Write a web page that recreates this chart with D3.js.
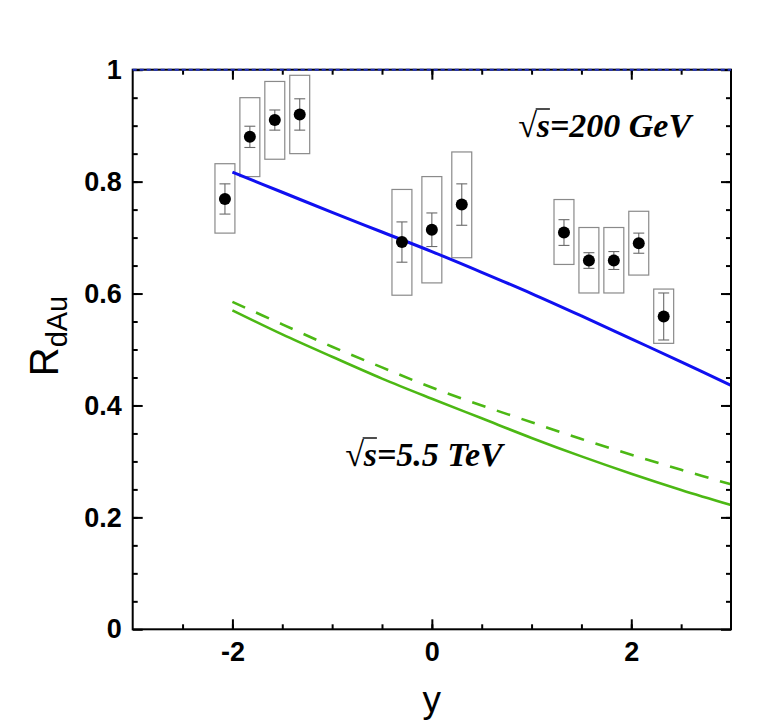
<!DOCTYPE html>
<html>
<head>
<meta charset="utf-8">
<script src="https://cdn.jsdelivr.net/npm/d3@7"></script>
<style>
  html, body { margin: 0; padding: 0; background: #fff; }
  svg { display: block; }
</style>
</head>
<body>
<svg id="chart" width="767" height="722"></svg>
<script>
// ---- data ----
const rapidity = [-2.075, -1.825, -1.575, -1.325, -0.3, 0, 0.3, 1.325, 1.575, 1.825, 2.075, 2.325];
const rdAu     = [0.769, 0.880, 0.910, 0.920, 0.692, 0.714, 0.759, 0.709, 0.659, 0.659, 0.690, 0.559];
const statErr  = [0.027, 0.019, 0.018, 0.028, 0.036, 0.030, 0.037, 0.023, 0.014, 0.016, 0.018, 0.042];
const sysLow   = [0.708, 0.809, 0.840, 0.850, 0.597, 0.619, 0.664, 0.652, 0.601, 0.601, 0.633, 0.511];
const sysHigh  = [0.832, 0.950, 0.979, 0.990, 0.786, 0.809, 0.853, 0.768, 0.718, 0.718, 0.747, 0.608];

const curveY      = [-2, -1.5, -1, -0.5, 0, 0.5, 1, 1.5, 2, 2.5, 3];
const rhic200     = [0.817, 0.781, 0.745, 0.710, 0.675, 0.638, 0.600, 0.560, 0.519, 0.478, 0.436];
const lhcSolid    = [0.570, 0.527, 0.487, 0.448, 0.412, 0.377, 0.342, 0.309, 0.278, 0.249, 0.222];
const lhcDashed   = [0.585, 0.545, 0.505, 0.468, 0.432, 0.400, 0.370, 0.340, 0.312, 0.285, 0.259];

const xTicks = [-2, 0, 2];
const yTicks = [0, 0.2, 0.4, 0.6, 0.8, 1];
const yTickLabels = ["0", "0.2", "0.4", "0.6", "0.8", "1"];

// ---- layout ----
const svg = d3.select("#chart");
const L = 132.7, R = 731, T = 69.7, B = 629.3;
const x = d3.scaleLinear().domain([-3, 3]).range([L, R]);
const y = d3.scaleLinear().domain([0, 1]).range([B, T]);

const sans = "'Liberation Sans', Arial, Helvetica, sans-serif";
const serif = "'Liberation Serif', 'Times New Roman', serif";

// ---- systematic boxes ----
const pts = rapidity.map((v, i) => ({x: v, r: rdAu[i], e: statErr[i], lo: sysLow[i], hi: sysHigh[i]}));
const boxHalf = 0.1, capHalf = 0.055;

svg.append("g").selectAll("rect").data(pts).join("rect")
  .attr("x", d => x(d.x - boxHalf))
  .attr("width", d => x(d.x + boxHalf) - x(d.x - boxHalf))
  .attr("y", d => y(d.hi))
  .attr("height", d => y(d.lo) - y(d.hi))
  .attr("fill", "none").attr("stroke", "#8a8a8a").attr("stroke-width", 1.2);

// ---- curves ----
const mk = arr => curveY.map((v, i) => [v, arr[i]]);
const line = d3.line().x(d => x(d[0])).y(d => y(d[1])).curve(d3.curveCatmullRom);

svg.append("path").datum(mk(lhcSolid)).attr("d", line)
  .attr("fill", "none").attr("stroke", "#4cb814").attr("stroke-width", 2.6);
svg.append("path").datum(mk(lhcDashed)).attr("d", line)
  .attr("fill", "none").attr("stroke", "#4cb814").attr("stroke-width", 2.6)
  .attr("stroke-dasharray", "14 12");
svg.append("path").datum(mk(rhic200)).attr("d", line)
  .attr("fill", "none").attr("stroke", "#1010f0").attr("stroke-width", 3);

// ---- error bars ----
const eg = svg.append("g").attr("stroke", "#6a6a6a").attr("stroke-width", 1.1);
eg.selectAll("line.v").data(pts).join("line")
  .attr("x1", d => x(d.x)).attr("x2", d => x(d.x))
  .attr("y1", d => y(d.r + d.e)).attr("y2", d => y(d.r - d.e));
eg.selectAll("line.t").data(pts).join("line")
  .attr("x1", d => x(d.x - capHalf)).attr("x2", d => x(d.x + capHalf))
  .attr("y1", d => y(d.r + d.e)).attr("y2", d => y(d.r + d.e));
eg.selectAll("line.b").data(pts).join("line")
  .attr("x1", d => x(d.x - capHalf)).attr("x2", d => x(d.x + capHalf))
  .attr("y1", d => y(d.r - d.e)).attr("y2", d => y(d.r - d.e));

svg.append("g").selectAll("circle").data(pts).join("circle")
  .attr("cx", d => x(d.x)).attr("cy", d => y(d.r)).attr("r", 6).attr("fill", "#000");

// ---- axes ----
const xMinor = d3.range(-2.5, 3, 0.5);
const yMinor = d3.range(0.05, 1, 0.05);
function axis(gen, transform) {
  const g = svg.append("g").attr("transform", transform).call(gen);
  g.select(".domain").remove();
  g.selectAll(".tick line").attr("stroke", "#000").attr("stroke-width", 2);
  return g;
}
axis(d3.axisBottom(x).tickValues(xMinor).tickSize(-5).tickFormat(""), `translate(0,${B})`);
axis(d3.axisTop(x).tickValues(xMinor).tickSize(-5).tickFormat(""), `translate(0,${T})`);
axis(d3.axisLeft(y).tickValues(yMinor).tickSize(-5).tickFormat(""), `translate(${L},0)`);
axis(d3.axisRight(y).tickValues(yMinor).tickSize(-5).tickFormat(""), `translate(${R},0)`);
const xb = axis(d3.axisBottom(x).tickValues(xTicks).tickSize(-10).tickPadding(13).tickFormat(d3.format("d")), `translate(0,${B})`);
axis(d3.axisTop(x).tickValues(xTicks).tickSize(-10).tickFormat(""), `translate(0,${T})`);
const yl = axis(d3.axisLeft(y).tickValues(yTicks).tickSize(-10).tickPadding(11).tickFormat((d, i) => yTickLabels[i]), `translate(${L},0)`);
axis(d3.axisRight(y).tickValues(yTicks).tickSize(-10).tickFormat(""), `translate(${R},0)`);

xb.selectAll(".tick text").attr("font-family", sans).attr("font-weight", "bold")
  .attr("font-size", 27).attr("fill", "#000").attr("dy", "0.71em")
  .text(d => d < 0 ? "-" + Math.abs(d) : d);
yl.selectAll(".tick text").attr("font-family", sans).attr("font-weight", "bold")
  .attr("font-size", 27).attr("fill", "#000");

// frame
svg.append("rect").attr("x", L).attr("y", T).attr("width", R - L).attr("height", B - T)
  .attr("fill", "none").attr("stroke", "#000").attr("stroke-width", 2);
svg.append("line").attr("x1", L).attr("x2", R).attr("y1", T).attr("y2", T)
  .attr("stroke", "#2030c0").attr("stroke-width", 2).attr("stroke-dasharray", "4 3");

// ---- axis titles ----
svg.append("text").attr("x", x(0)).attr("y", 712).attr("text-anchor", "middle")
  .attr("font-family", sans).attr("font-size", 37).attr("fill", "#000").text("y");

const yt = svg.append("text").attr("transform", "translate(58,336) rotate(-90)")
  .attr("text-anchor", "middle").attr("font-family", sans).attr("fill", "#000");
yt.append("tspan").attr("font-size", 40).text("R");
yt.append("tspan").attr("font-size", 29).attr("dy", 9).text("dAu");

// ---- energy labels ----
function sqrtLabel(px, py, rest) {
  const t = svg.append("text").attr("x", px).attr("y", py)
    .attr("font-family", serif).attr("font-weight", "bold").attr("font-style", "italic")
    .attr("font-size", 34).attr("fill", "#000").text("\u221As" + rest);
  const n = t.node();
  const e0 = n.getExtentOfChar(0), e1 = n.getExtentOfChar(1);
  const top = e0.y + 2;
  svg.append("line").attr("x1", e0.x + e0.width - 1).attr("x2", e1.x + e1.width)
    .attr("y1", top).attr("y2", top).attr("stroke", "#000").attr("stroke-width", 1.4);
}
sqrtLabel(518, 137, "=200 GeV");
sqrtLabel(345, 466, "=5.5 TeV");
</script>
</body>
</html>
